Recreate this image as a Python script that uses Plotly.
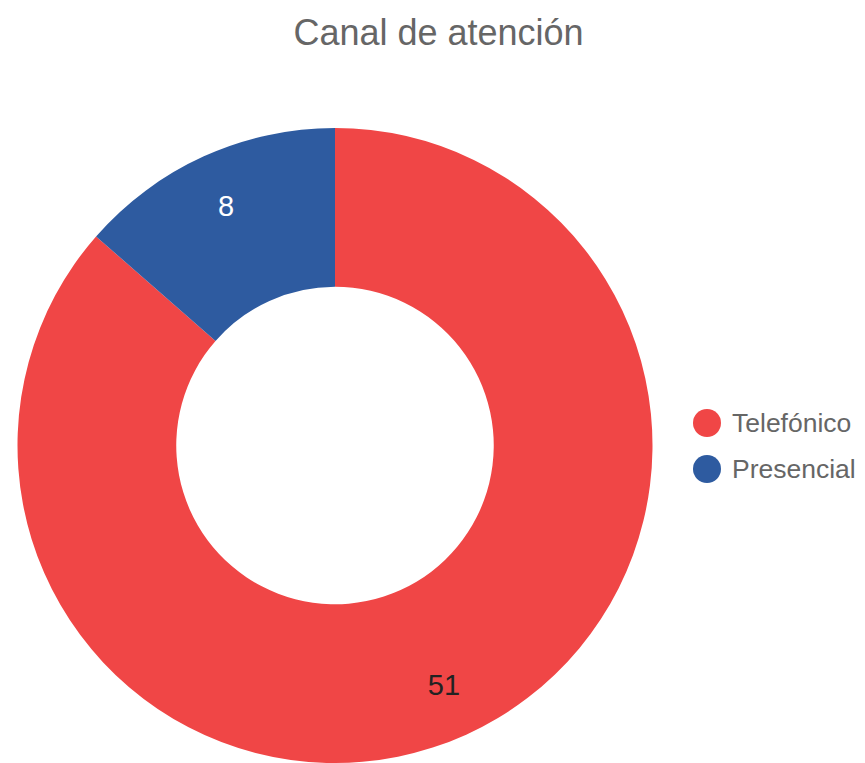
import plotly.graph_objects as go

title = "Canal de atención"
labels = ["Telefónico", "Presencial"]
values = [51, 8]
colors = ["#F04646", "#2E5BA0"]
text_colors = ["#222222", "#FFFFFF"]

# the page body has an 8px margin, so the figure is laid out 8px smaller
OFF = 8
W, H = 865 - OFF, 763 - OFF
FONT = "Liberation Sans, Arial, sans-serif"

pie_domain = dict(x=[(15 - OFF) / W, (655 - OFF) / W], y=[0, 1 - (128 - OFF) / H])

fig = go.Figure()
# visible donut
fig.add_trace(go.Pie(
    labels=labels,
    values=values,
    hole=0.5,
    sort=False,
    direction="clockwise",
    rotation=0,
    marker=dict(colors=colors, line=dict(width=0)),
    textinfo="none",
    domain=pie_domain,
    showlegend=False,
    hoverinfo="label+value+percent",
))
# transparent overlay donut that only carries the value labels (placed further out)
fig.add_trace(go.Pie(
    labels=labels,
    values=values,
    hole=0.66,
    sort=False,
    direction="clockwise",
    rotation=0,
    marker=dict(colors=["rgba(0,0,0,0)"] * len(values), line=dict(width=0)),
    textinfo="value",
    textposition="inside",
    insidetextorientation="horizontal",
    insidetextfont=dict(family=FONT, size=29, color=text_colors),
    domain=pie_domain,
    showlegend=False,
    hoverinfo="skip",
))

# custom legend with large circle markers
shapes = []
annotations = []
legend_y = [423 - OFF, 469 - OFF]
cx, rr = 707 - OFF, 14
for lab, col, yy in zip(labels, colors, legend_y):
    shapes.append(dict(type="circle", xref="paper", yref="paper",
                       x0=(cx - rr) / W, x1=(cx + rr) / W,
                       y0=1 - (yy + rr) / H, y1=1 - (yy - rr) / H,
                       fillcolor=col, line=dict(width=0)))
    annotations.append(dict(text=lab, xref="paper", yref="paper",
                            x=(730 - OFF) / W, y=1 - yy / H, xanchor="left", yanchor="middle",
                            showarrow=False,
                            font=dict(family=FONT, size=26.5, color="#666666")))

fig.update_layout(
    width=W, height=H,
    margin=dict(l=0, r=0, t=0, b=0),
    paper_bgcolor="white",
    plot_bgcolor="white",
    title=dict(text=title, x=(438.5 - OFF) / W, xanchor="center", y=1 - (32 - OFF) / H,
               yanchor="middle",
               font=dict(family=FONT, size=36, color="#666666")),
    shapes=shapes,
    annotations=annotations,
    showlegend=False,
)

fig.write_html("out.html")
